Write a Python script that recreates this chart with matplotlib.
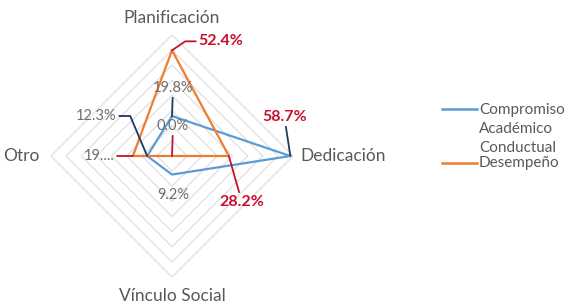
import numpy as np
import matplotlib
matplotlib.use('Agg')
import matplotlib.pyplot as plt
from matplotlib.lines import Line2D

plt.rcParams['font.family'] = ['Lato', 'DejaVu Sans']

# data
categories = ['Planificación', 'Dedicación', 'Vínculo Social', 'Otro']
series_names = ['Compromiso\nAcadémico', 'Conductual\nDesempeño']
compromiso = [19.8, 58.7, 9.2, 12.3]
conductual = [52.4, 28.2, 0.0, 19.4]
compromiso_labels = ['19.8%', '58.7%', '9.2%', '12.3%']
conductual_labels = ['52.4%', '28.2%', '0.0%', '19....']
ring_values = [7.5, 15, 22.5, 30, 37.5, 45, 52.5, 60]

blue = '#5B9BD5'
orange = '#ED7D31'
red = '#C8102E'
navy = '#203864'
grey_lbl = '#6E6E6E'
grey_cat = '#595959'

W, H = 567, 308
cx, cy, R = 172, 156, 121

fig = plt.figure(figsize=(W / 100, H / 100), dpi=100)
ax = fig.add_axes([(cx - R) / W, (H - cy - R) / H, 2 * R / W, 2 * R / H],
                  projection='polar')
ax.set_theta_zero_location('N')
ax.set_theta_direction(-1)
ax.set_ylim(0, 60)
ax.grid(False)
ax.spines['polar'].set_visible(False)
ax.set_xticks([])
ax.set_yticks([])
ax.patch.set_alpha(0)

angles = np.linspace(0, 2 * np.pi, len(categories), endpoint=False)
closed = np.append(angles, angles[0])

# diamond grid
for r in ring_values:
    ax.plot(closed, [r] * len(closed), color='#DCDCDC', lw=0.8, zorder=1)

ax.plot(closed, compromiso + compromiso[:1], color=blue, lw=1.6, zorder=3)
ax.plot(closed, conductual + conductual[:1], color=orange, lw=1.6, zorder=4)

# category labels (offsets in pixels from the outer ring tip)
cat_pos = [((0, 17), 'center'), ((7, 0), 'left'), ((0, -19), 'center'), ((-11, 0), 'right')]
for a, name, (off, ha) in zip(angles, categories, cat_pos):
    ax.annotate(name, xy=(a, 60), xytext=off, textcoords='offset pixels',
                ha=ha, va='center', fontsize=12.5, color=grey_cat,
                annotation_clip=False)

# data labels: offset px, text colour, bold, leader colour, connection
blue_style = [
    ((1, 28), grey_lbl, False, navy, 'arc3'),
    ((-6, 39), red, True, navy, 'arc3'),
    ((1, -20), grey_lbl, False, None, None),
    ((-51, 40), grey_lbl, False, navy, 'angle,angleA=0,angleB=113,rad=0'),
]
orange_style = [
    ((49, 9), red, True, red, 'angle,angleA=0,angleB=34,rad=0'),
    ((13, -46), red, True, red, 'arc3'),
    ((1, 30), grey_lbl, False, red, 'arc3'),
    ((-34, 0), grey_lbl, False, red, 'arc3'),
]


def put_labels(values, labels, styles):
    for a, v, txt, (off, col, bold, lcol, conn) in zip(angles, values, labels, styles):
        props = None
        if lcol is not None:
            props = dict(arrowstyle='-', color=lcol, lw=1.3,
                         shrinkA=0, shrinkB=0, connectionstyle=conn)
        ax.annotate(txt, xy=(a, v), xytext=off, textcoords='offset pixels',
                    ha='center', va='center',
                    fontsize=11.5 if bold else 10.5, color=col,
                    fontweight='bold' if bold else 'normal',
                    arrowprops=props, annotation_clip=False, zorder=6)


put_labels(compromiso, compromiso_labels, blue_style)
put_labels(conductual, conductual_labels, orange_style)

# legend drawn by hand
leg = [(blue, 109, ['Compromiso', 'Académico'], [110, 129]),
       (orange, 163, ['Conductual', 'Desempeño'], [148, 163])]
for col, ly, lines, tys in leg:
    fig.add_artist(Line2D([442 / W, 477 / W], [1 - ly / H, 1 - ly / H],
                          color=col, lw=1.8, transform=fig.transFigure))
    for t, ty in zip(lines, tys):
        fig.text(479 / W, 1 - ty / H, t, ha='left', va='center',
                 fontsize=11, color=grey_cat)

fig.savefig('out.png', dpi=100)
